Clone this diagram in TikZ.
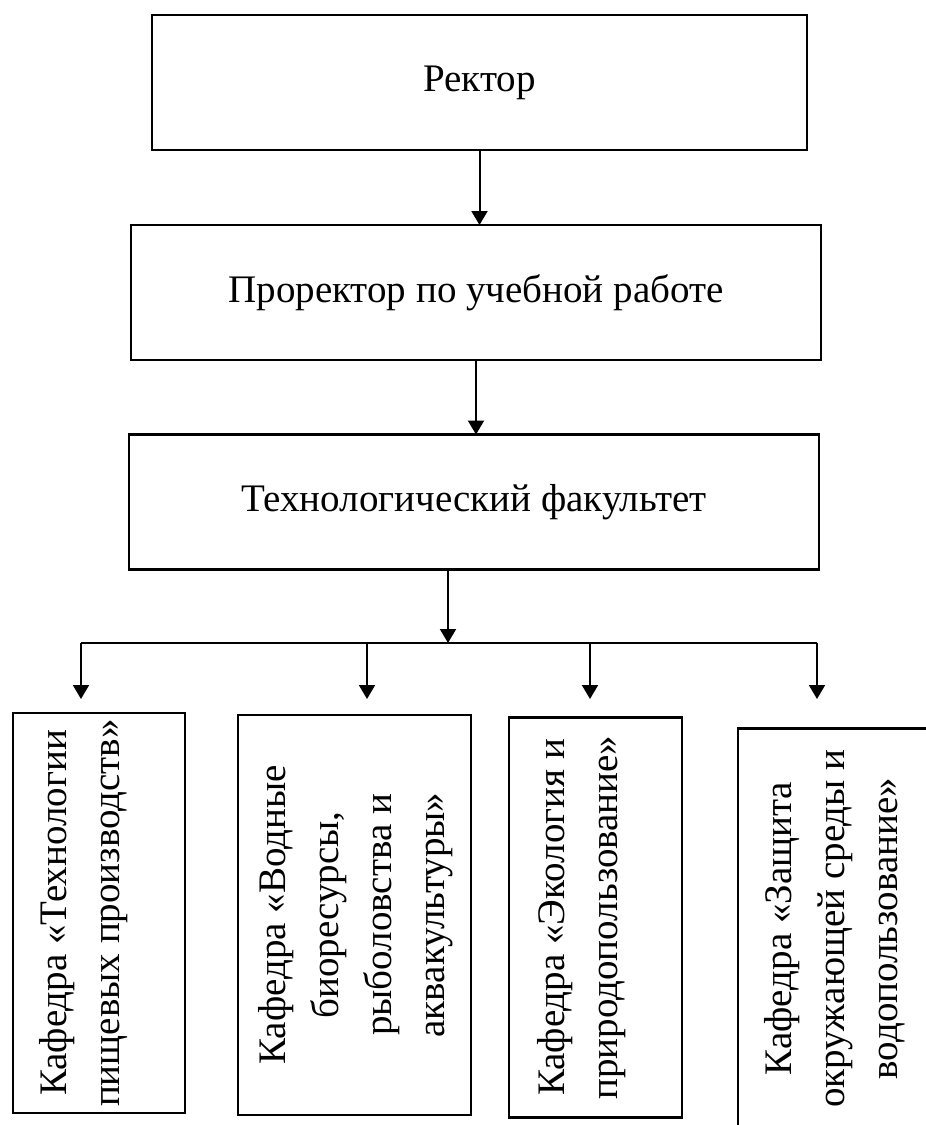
\documentclass[tikz,border=0pt]{standalone}
\usepackage{fontspec}
\setmainfont{Liberation Serif}
\usepackage{tikz}
\usetikzlibrary{arrows.meta,positioning}

\begin{document}
\begin{tikzpicture}[
    x=0.5pt, y=-0.5pt,
    post/.style={rectangle, draw=black, line width=1.1pt, minimum height=67.5pt, inner sep=0pt, outer sep=0pt, font=\fontsize{19.5}{23}\selectfont},
    dept/.style={rectangle, draw=black, line width=1.1pt, minimum height=200pt, inner sep=0pt, outer sep=0pt, font=\fontsize{19.5}{26.5}\selectfont},
    arrow/.style={-{Triangle[length=7pt, width=8pt]}, line width=1pt}
]
    \clip (0,0) rectangle (926,1125);

    \node[post, minimum width=327.5pt] (rector) at (479.5,82.5) {Ректор};
    \node[post, minimum width=345pt] (prorector) at (476,292.5) {Проректор по учебной работе};
    \node[post, minimum width=345pt] (faculty) at (474,502) {Технологический факультет};

    \node[dept, minimum width=86pt] (dep1) at (99,913) {\rotatebox{90}{\begin{tabular}{@{}c@{}}Кафедра «Технологии\\пищевых производств»\end{tabular}}\hspace*{17pt}};
    \node[dept, minimum width=116.5pt] (dep2) at (354.5,915) {\rotatebox{90}{\begin{tabular}{@{}c@{}}Кафедра «Водные\\биоресурсы,\\рыболовства и\\аквакультуры»\end{tabular}}};
    \node[dept, minimum width=86.5pt] (dep3) at (595.5,917.5) {\rotatebox{90}{\begin{tabular}{@{}c@{}}Кафедра «Экология и\\природопользование»\end{tabular}}\hspace*{15pt}};
    \node[dept, minimum width=96pt] (dep4) at (834,928.5) {\rotatebox{90}{\begin{tabular}{@{}c@{}}Кафедра «Защита\\окружающей среды и\\водопользование»\end{tabular}}};

    \draw[arrow] (rector.south) -- (rector.south |- prorector.north);
    \draw[arrow] (prorector.south) -- (prorector.south |- faculty.north);

    \coordinate (junc) at (448,643);
    \coordinate (busl) at (81,643);
    \coordinate (drop2) at (367,643);
    \coordinate (drop3) at (590,643);
    \coordinate (busr) at (817,643);
    \coordinate (tips) at (0,699);

    \draw[line width=1pt] (busl) -- (busr);
    \draw[arrow] (faculty.south -| junc) -- (junc);
    \foreach \d in {busl,drop2,drop3,busr}
        \draw[arrow] (\d) -- (\d |- tips);
\end{tikzpicture}
\end{document}
